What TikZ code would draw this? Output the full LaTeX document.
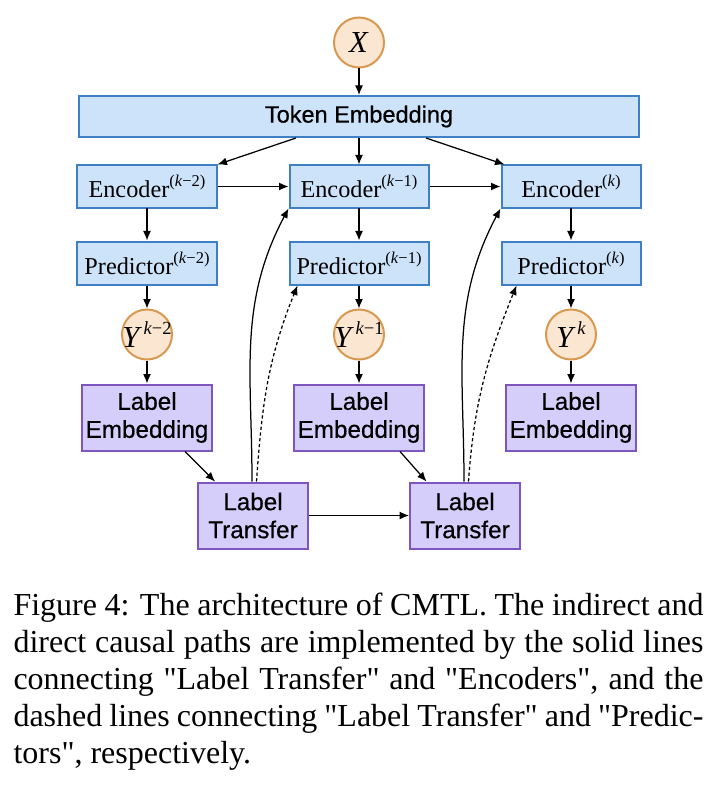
\documentclass[tikz,border=0pt]{standalone}
\usepackage{fontspec}
\setmainfont{Liberation Serif}
\newfontfamily\boxfont{Liberation Sans}[FakeBold=0.5]
\newfontfamily\capfont{Liberation Serif}
\usepackage{tikz}
\usetikzlibrary{calc, matrix, positioning, arrows.meta}

\definecolor{encfill}{HTML}{CCE3FA}
\definecolor{encedge}{HTML}{3F7FC4}
\definecolor{varfill}{HTML}{FBE6D2}
\definecolor{varedge}{HTML}{D9984F}
\definecolor{labfill}{HTML}{D6CEFA}
\definecolor{labedge}{HTML}{7D56C1}

% step superscript and label variable
\newcommand{\stp}[1]{\raisebox{0.45em}{\fontsize{6.6}{7}\selectfont(\textit{k}#1)}}
\newcommand{\yin}[1]{\makebox[0pt]{\textit{Y}\kern0.6pt\raisebox{0.45em}{\fontsize{7.4}{8}\selectfont\textit{k}#1}}}

\tikzset{
    encbox/.style={draw=encedge, fill=encfill, line width=0.8pt, minimum width=55.6pt,
        inner sep=1.2pt, font=\fontsize{9.7}{11}\selectfont},
    yvar/.style={circle, draw=varedge, fill=varfill, line width=0.8pt, minimum size=20pt,
        inner sep=0pt, font=\fontsize{12.2}{14}\selectfont},
    labbox/.style={draw=labedge, fill=labfill, line width=0.8pt, align=center,
        inner sep=1pt, font=\boxfont\fontsize{9.7}{11.2}\selectfont},
    flow/.style={-{Latex[length=3.8pt,width=3.2pt]}, line width=0.5pt},
    dots/.style={dash pattern=on 1.3pt off 1pt},
}

\begin{document}
\begin{tikzpicture}[x=0.4pt, y=-0.4pt]
                \useasboundingbox (0,0) rectangle (724,786);
                
                \matrix (net) [matrix of nodes, column sep=28.4pt, row sep=9.2pt,
                    nodes={anchor=center},
                    row 1/.style={nodes={encbox, minimum height=16.8pt}},
                    row 2/.style={nodes={encbox, minimum height=17.2pt}},
                    row 3/.style={nodes=yvar},
                    row 4/.style={nodes={labbox, text width=50pt, minimum height=26.4pt}}] at (359,308)
                {
                    Encoder\stp{−2}   & Encoder\stp{−1}   & Encoder\stp{} \\[3.6pt]
                    Predictor\stp{−2} & Predictor\stp{−1} & Predictor\stp{} \\
                    \yin{−2}          & \yin{−1}          & \yin{} \\
                    Label Embedding   & Label Embedding   & Label Embedding \\
                };
                
                \node[encbox, font=\boxfont\fontsize{9.4}{11}\selectfont, minimum width=224pt,
                    minimum height=16.4pt, above=10.6pt of net-1-2] (tok) {Token Embedding};
                \node[yvar, above=10.6pt of tok] (x) {\textit{X}};
                \draw[flow] (x) -- (tok);
                
                \draw[flow] ([xshift=-25.2pt]tok.south) -- (net-1-1.north east);
                \draw[flow] (tok.south -| net-1-2) -- (net-1-2);
                \draw[flow] ([xshift=26.8pt]tok.south) -- ([xshift=1.6pt]net-1-3.north west);
                
                \foreach \i in {1,2,3} {
                    \draw[flow] (net-1-\i) -- (net-2-\i);
                    \draw[flow] (net-2-\i) -- (net-3-\i);
                    \draw[flow] (net-3-\i) -- (net-4-\i);
                }
                \draw[flow] (net-1-1) -- (net-1-2);
                \draw[flow] (net-1-2) -- (net-1-3);
                
                \node[labbox, text width=42pt, minimum height=26.4pt, below=12pt]
                    at ($(net-4-1.south)!0.5!(net-4-2.south)$) (lt1) {Label Transfer};
                \node[labbox, text width=42pt, minimum height=26.4pt, below=12pt]
                    at ($(net-4-2.south)!0.5!(net-4-3.south)$) (lt2) {Label Transfer};
                
                \draw[flow] ([xshift=-11.2pt]net-4-1.south east) -- ([xshift=7.2pt]lt1.north west);
                \draw[flow] ([xshift=-10pt]net-4-2.south east) -- ([xshift=7pt]lt2.north west);
                \draw[flow] (lt1) -- (lt2);
                
                % paths from the transfer to the next step
                \foreach \t/\c/\s in {1/2/3.6pt, 2/3/6.4pt} {
                    \draw[flow] ([xshift=-0.4pt]lt\t.north) to[out=90, in=-118] (net-1-\c.south west);
                    \draw[flow, dots] ([xshift=1.4pt]lt\t.north) to[out=86, in=-112]
                        ([xshift=\s]net-2-\c.south west);
                }
                
                \node[anchor=north west, text width=276pt, align=justify, inner sep=0pt,
                    font=\capfont\fontsize{12.8}{14.8}\selectfont] (cap) at (13,592)
                {Figure 4: The architecture of CMTL. The indirect and\linebreak
                 direct causal paths are implemented by the solid lines\linebreak
                 connecting "Label Transfer" and "Encoders", and the\linebreak
                 dashed lines connecting "Label Transfer" and "Predic-\linebreak
                 tors", respectively.};
            \end{tikzpicture}
\end{document}
